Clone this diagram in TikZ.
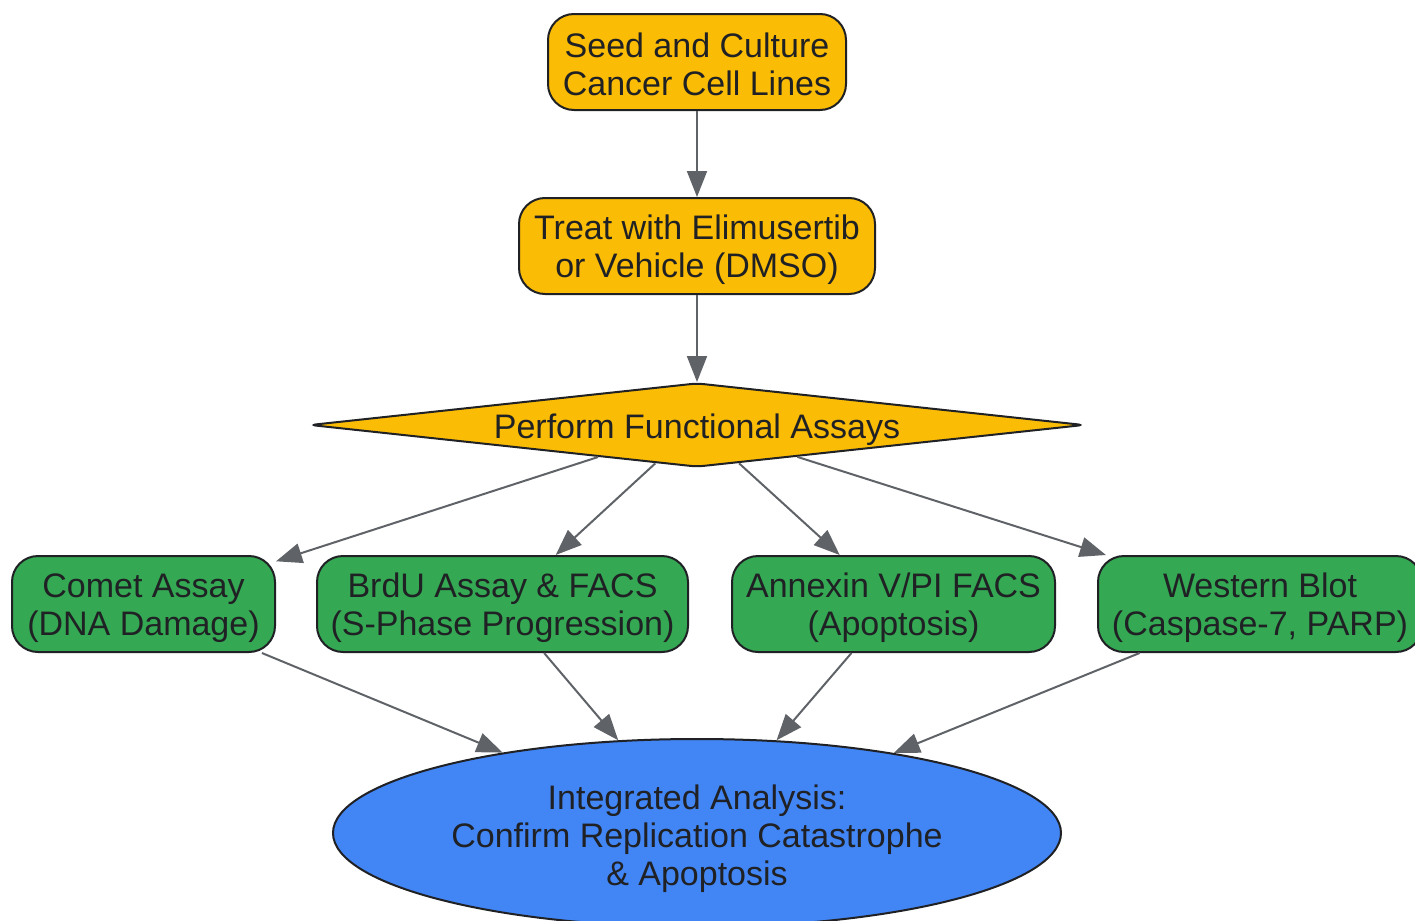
\documentclass[tikz,border=0pt]{standalone}
\usepackage{fontspec}
\setmainfont{Liberation Sans}
\usetikzlibrary{shapes.geometric,arrows.meta}
\definecolor{gyellow}{HTML}{FBBC05}
\definecolor{ggreen}{HTML}{34A853}
\definecolor{gblue}{HTML}{4285F4}
\definecolor{ink}{HTML}{202124}
\definecolor{edgegrey}{HTML}{5F6368}
\newcommand{\dropgap}[1]{\rule{0pt}{#1}}

\begin{document}
\begin{tikzpicture}
      [   x=0.5pt, y=-0.5pt,
          bnode/.style={draw=ink,line width=1pt,fill=#1,rounded corners=13pt,
            minimum height=48pt,inner sep=0pt,align=center,text=ink,
            font=\fontsize{17}{19}\selectfont},
          dnode/.style={diamond,draw=ink,line width=1pt,fill=gyellow,aspect=9.2,
            rounded corners=3pt,minimum width=387pt,minimum height=42pt,inner sep=0pt,
            text height=13.8pt,text depth=0pt,
            text=ink,font=\fontsize{17}{19}\selectfont},
          enode/.style={ellipse,draw=ink,line width=1pt,fill=gblue,
            minimum width=364pt,minimum height=94pt,inner sep=0pt,align=center,
            text=ink,font=\fontsize{17}{19}\selectfont},
          arr/.style={draw=edgegrey,line width=1pt,-{Triangle[length=13pt,width=10pt]}},
      ]
          \useasboundingbox (0,0) rectangle (1415,921);

          \node[bnode=gyellow,minimum width=149pt] (seed) at (697,62) {\dropgap{15pt}Seed and Culture\\Cancer Cell Lines};
          \node[bnode=gyellow,minimum width=178pt] (treat) at (697,246) {\dropgap{16.5pt}Treat with Elimusertib\\or Vehicle (DMSO)};
          \node[dnode] (assays) at (697,425) {Perform Functional Assays};

          \node[bnode=ggreen,minimum width=131.5pt] (comet) at (143.5,604) {\dropgap{16.5pt}Comet Assay\\(DNA Damage)};
          \node[bnode=ggreen,minimum width=185.5pt] (brdu) at (502.5,604) {\dropgap{16.5pt}BrdU Assay \& FACS\\(S-Phase Progression)};
          \node[bnode=ggreen,minimum width=161.5pt] (annexin) at (893.5,604) {\dropgap{16.5pt}Annexin V/PI FACS\\(Apoptosis)};
          \node[bnode=ggreen,minimum width=162pt] (western) at (1260,604) {\dropgap{16.5pt}Western Blot\\(Caspase-7, PARP)};

          \node[enode] (integ) at (697,833) {\dropgap{18.3pt}Integrated Analysis:\\Confirm Replication Catastrophe\\\& Apoptosis};

          \draw[arr] (seed) -- (treat);
          \draw[arr] (treat) -- (assays);
          \draw[arr] (assays) -- (comet);
          \draw[arr] (assays) -- (brdu);
          \draw[arr] (assays) -- (annexin);
          \draw[arr] (assays) -- (western);
          \draw[arr] (comet) -- (integ);
          \draw[arr] (brdu) -- (integ);
          \draw[arr] (annexin) -- (integ);
          \draw[arr] (western) -- (integ);
    \end{tikzpicture}
\end{document}
